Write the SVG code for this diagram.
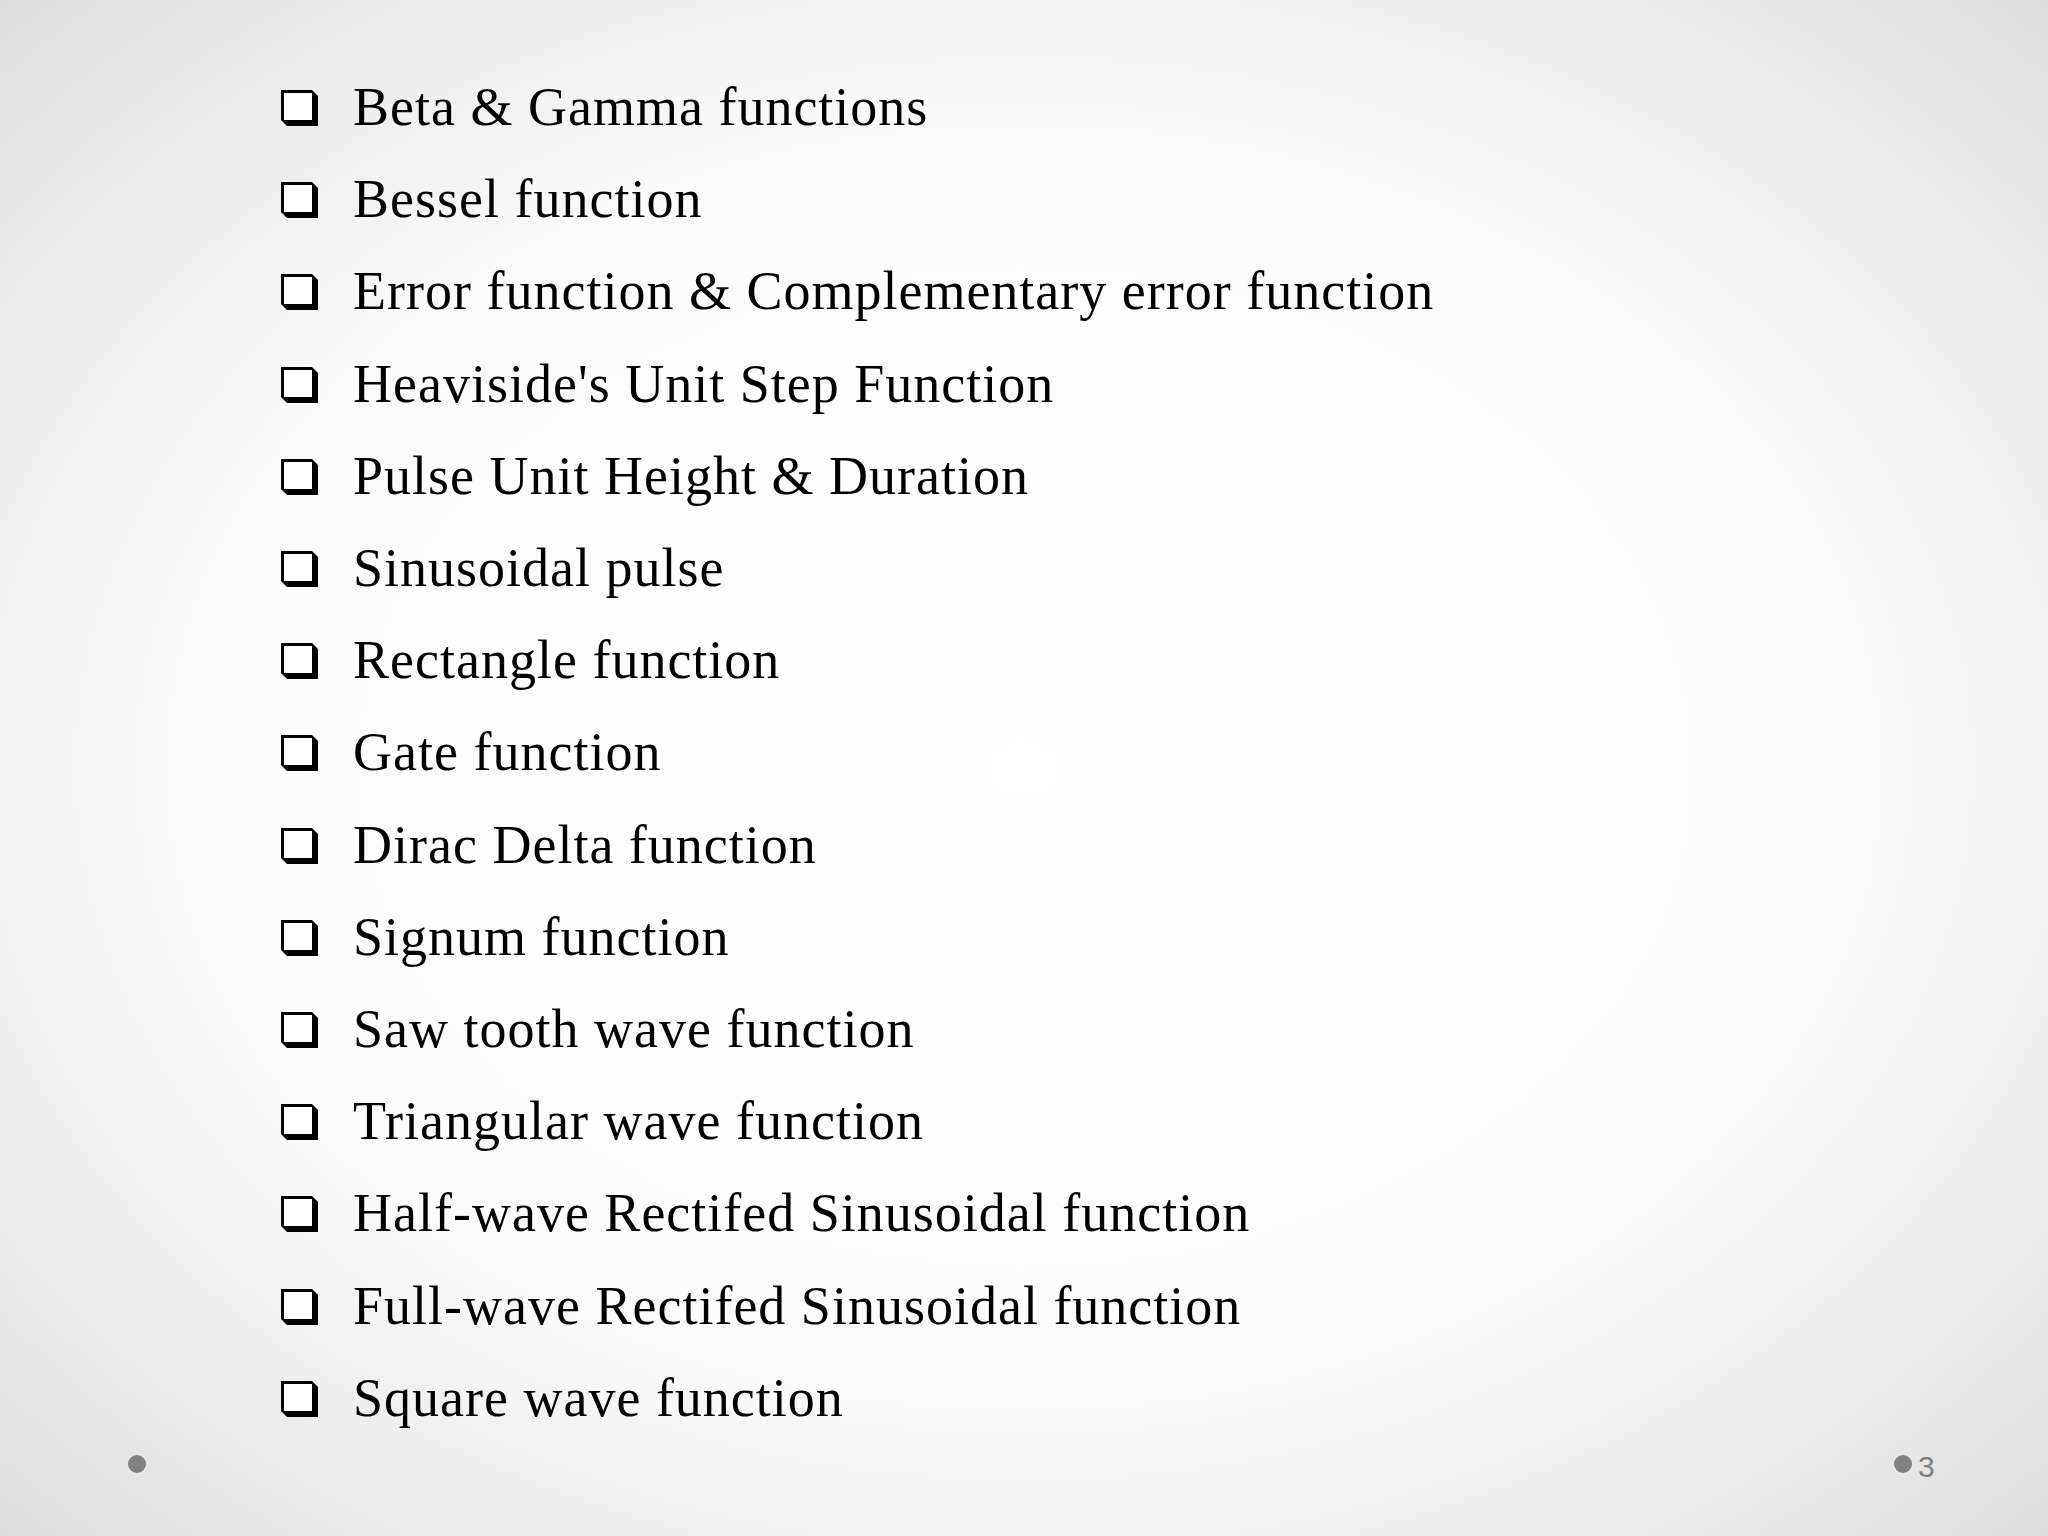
<svg xmlns="http://www.w3.org/2000/svg" width="2048" height="1536" viewBox="0 0 2048 1536">
<defs>
<radialGradient id="bg" cx="50%" cy="50%" r="75%">
<stop offset="0" stop-color="#ffffff"/><stop offset="0.55" stop-color="#fbfbfb"/><stop offset="1" stop-color="#d9d9d9"/>
</radialGradient>
<g id="box"><polygon points="0,0 31,0 37,6 37,36 6,36 0,30" fill="#000"/><rect x="3" y="3" width="28" height="27" fill="#fff"/></g>
</defs>
<style>.t{font-family:"Liberation Serif",serif;font-size:54px;letter-spacing:1px;fill:#000}</style>
<rect width="2048" height="1536" fill="url(#bg)"/>
<g id="items">
<g id="i1"><use href="#box" x="281" y="90"/><text class="t" x="353" y="125">Beta &amp; Gamma functions</text></g>
<g id="i2"><use href="#box" x="281" y="182"/><text class="t" x="353" y="217">Bessel function</text></g>
<g id="i3"><use href="#box" x="281" y="274"/><text class="t" x="353" y="309">Error function &amp; Complementary error function</text></g>
<g id="i4"><use href="#box" x="281" y="367"/><text class="t" x="353" y="402">Heaviside's Unit Step Function</text></g>
<g id="i5"><use href="#box" x="281" y="459"/><text class="t" x="353" y="494">Pulse Unit Height &amp; Duration</text></g>
<g id="i6"><use href="#box" x="281" y="551"/><text class="t" x="353" y="586">Sinusoidal pulse</text></g>
<g id="i7"><use href="#box" x="281" y="643"/><text class="t" x="353" y="678">Rectangle function</text></g>
<g id="i8"><use href="#box" x="281" y="735"/><text class="t" x="353" y="770">Gate function</text></g>
<g id="i9"><use href="#box" x="281" y="828"/><text class="t" x="353" y="863">Dirac Delta function</text></g>
<g id="i10"><use href="#box" x="281" y="920"/><text class="t" x="353" y="955">Signum function</text></g>
<g id="i11"><use href="#box" x="281" y="1012"/><text class="t" x="353" y="1047">Saw tooth wave function</text></g>
<g id="i12"><use href="#box" x="281" y="1104"/><text class="t" x="353" y="1139">Triangular wave function</text></g>
<g id="i13"><use href="#box" x="281" y="1196"/><text class="t" x="353" y="1231">Half-wave Rectifed Sinusoidal function</text></g>
<g id="i14"><use href="#box" x="281" y="1289"/><text class="t" x="353" y="1324">Full-wave Rectifed Sinusoidal function</text></g>
<g id="i15"><use href="#box" x="281" y="1381"/><text class="t" x="353" y="1416">Square wave function</text></g>
</g>
<circle cx="137" cy="1464" r="9" fill="#808080"/>
<circle cx="1903" cy="1464" r="9" fill="#808080"/>
<text x="1918" y="1477" font-family="Liberation Sans, sans-serif" font-size="30" fill="#808080">3</text>
</svg>
